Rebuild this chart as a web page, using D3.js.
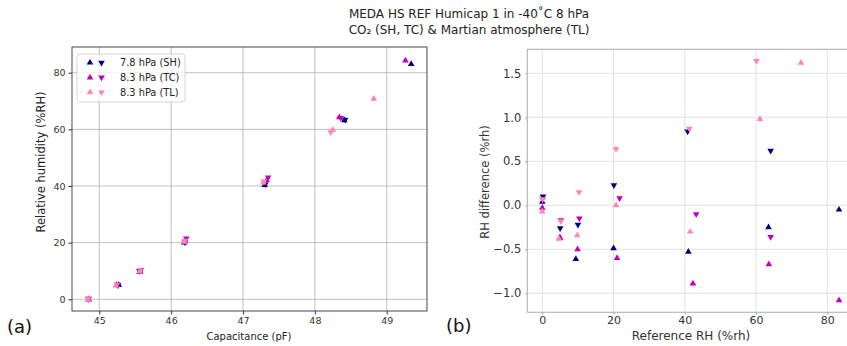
<!DOCTYPE html>
<html><head><meta charset="utf-8">
<script src="https://cdn.jsdelivr.net/npm/d3@7"></script>
<style>
body{margin:0;background:#fff;}
svg{display:block;font-family:"DejaVu Sans",sans-serif;}
</style></head>
<body><svg id="c" width="847" height="346"></svg>
<script>
// ---------- DATA ----------
const seriesNames = ["7.8 hPa (SH)", "8.3 hPa (TC)", "8.3 hPa (TL)"];
const seriesColors = ["#000080", "#bf00bf", "#ff85b4"];
const titleLines = ["MEDA HS REF Humicap 1 in -40\u02DAC 8 hPa", "CO\u2082 (SH, TC) & Martian atmosphere (TL)"];

// Panel (a): capacitance (pF) vs relative humidity (%RH)
const capSHup   = [44.85, 45.27, 45.56, 46.18, 47.30, 48.41, 49.34];
const rhSHup    = [0.0, 5.0, 9.6, 20.0, 40.3, 63.2, 83.0];
const capSHdown = [44.85, 45.26, 45.56, 46.19, 47.31, 48.42];
const rhSHdown  = [0.2, 5.0, 10.0, 20.2, 40.6, 63.4];
const capTCup   = [44.85, 45.24, 45.57, 46.19, 47.33, 48.34, 49.26];
const rhTCup    = [0.0, 5.0, 9.9, 20.5, 42.0, 64.2, 84.3];
const capTCdown = [44.85, 45.25, 45.58, 46.21, 47.35, 48.36];
const rhTCdown  = [0.1, 5.2, 10.4, 21.5, 43.0, 64.0];
const capTLup   = [44.84, 45.23, 45.56, 46.18, 47.28, 48.25, 48.82];
const rhTLup    = [0.0, 4.8, 9.8, 20.3, 41.2, 59.8, 70.8];
const capTLdown = [44.85, 45.24, 45.57, 46.19, 47.29, 48.22];
const rhTLdown  = [0.3, 5.2, 10.3, 20.7, 41.6, 59.0];

// Panel (b): reference RH (%rh) vs RH difference (%rh)
const refSHup   = [0.0, 4.9, 9.4, 20.0, 41.0, 63.5, 83.3];
const difSHup   = [0.04, -0.37, -0.61, -0.49, -0.53, -0.25, -0.05];
const refSHdown = [0.2, 5.0, 10.0, 20.1, 40.8, 64.1];
const difSHdown = [0.10, -0.26, -0.22, 0.23, 0.84, 0.62];
const refTCup   = [0.0, 5.0, 9.9, 21.0, 42.3, 63.6, 83.3];
const difTCup   = [-0.03, -0.37, -0.50, -0.60, -0.89, -0.67, -1.08];
const refTCdown = [0.1, 5.2, 10.4, 21.7, 43.2, 64.1];
const difTCdown = [0.07, -0.17, -0.15, 0.08, -0.10, -0.36];
const refTLup   = [0.0, 4.7, 9.8, 20.7, 41.5, 61.1, 72.6];
const difTLup   = [-0.07, -0.38, -0.34, 0.00, -0.30, 0.98, 1.62];
const refTLdown = [0.1, 5.2, 10.3, 20.7, 41.3, 60.1];
const difTLdown = [0.07, -0.18, 0.15, 0.64, 0.87, 1.64];

const xTicksA = [45, 46, 47, 48, 49];
const yTicksA = [0, 20, 40, 60, 80];
const xTicksB = [0, 20, 40, 60, 80];
const yTicksB = [-1.0, -0.5, 0.0, 0.5, 1.0, 1.5];

// ---------- BUILD ----------
const svg = d3.select("#c");
const zip = (a, b) => a.map((v, i) => [v, b[i]]);
const panelA = [
  {c: 0, up: zip(capSHup, rhSHup), down: zip(capSHdown, rhSHdown)},
  {c: 1, up: zip(capTCup, rhTCup), down: zip(capTCdown, rhTCdown)},
  {c: 2, up: zip(capTLup, rhTLup), down: zip(capTLdown, rhTLdown)}
];
const panelB = [
  {c: 0, up: zip(refSHup, difSHup), down: zip(refSHdown, difSHdown)},
  {c: 1, up: zip(refTCup, difTCup), down: zip(refTCdown, difTCdown)},
  {c: 2, up: zip(refTLup, difTLup), down: zip(refTLdown, difTLdown)}
];
const tri = d3.symbol().type(d3.symbolTriangle).size(19)();

// Title
svg.append("g").selectAll("text").data(titleLines).join("text")
  .attr("x", 469).attr("y", (d, i) => 17.5 + i * 16)
  .attr("text-anchor", "middle").attr("font-size", 12).attr("fill", "#222")
  .text(d => d);

// ----- Panel (a) -----
const A = {l: 72, r: 427, t: 47, b: 311};
const xA = d3.scaleLinear().domain([44.62, 49.56]).range([A.l, A.r]);
const yA = d3.scaleLinear().domain([-4.13, 89.07]).range([A.b, A.t]);
const gA = svg.append("g");
gA.append("g").selectAll("line").data(xTicksA).join("line")
  .attr("x1", d => xA(d)).attr("x2", d => xA(d)).attr("y1", A.t).attr("y2", A.b)
  .attr("stroke", "#b0b0b0").attr("stroke-width", 0.8);
gA.append("g").selectAll("line").data(yTicksA).join("line")
  .attr("y1", d => yA(d)).attr("y2", d => yA(d)).attr("x1", A.l).attr("x2", A.r)
  .attr("stroke", "#b0b0b0").attr("stroke-width", 0.8);
const axA = gA.append("g").attr("transform", `translate(0,${A.b})`)
  .call(d3.axisBottom(xA).tickValues(xTicksA).tickFormat(d3.format("d")).tickSize(3.5).tickPadding(3));
const ayA = gA.append("g").attr("transform", `translate(${A.l},0)`)
  .call(d3.axisLeft(yA).tickValues(yTicksA).tickFormat(d3.format("d")).tickSize(3.5).tickPadding(3));
[axA, ayA].forEach(a => {
  a.select(".domain").remove();
  a.selectAll("line").attr("stroke", "#333");
  a.selectAll("text").attr("font-size", 9.5).attr("fill", "#333").attr("font-family", "DejaVu Sans");
});
gA.append("rect").attr("x", A.l).attr("y", A.t).attr("width", A.r - A.l).attr("height", A.b - A.t)
  .attr("fill", "none").attr("stroke", "#333").attr("stroke-width", 0.9);
panelA.forEach(s => {
  gA.append("g").selectAll("path.u").data(s.up).join("path")
    .attr("d", tri).attr("fill", seriesColors[s.c])
    .attr("transform", d => `translate(${xA(d[0])},${yA(d[1])})`);
  gA.append("g").selectAll("path.d").data(s.down).join("path")
    .attr("d", tri).attr("fill", seriesColors[s.c])
    .attr("transform", d => `translate(${xA(d[0])},${yA(d[1])}) rotate(180)`);
});
gA.append("text").attr("x", 249).attr("y", 340).attr("text-anchor", "middle")
  .attr("font-size", 10).attr("fill", "#222").text("Capacitance (pF)");
gA.append("text").attr("transform", "translate(45,162) rotate(-90)").attr("text-anchor", "middle")
  .attr("font-size", 11.5).attr("fill", "#222").text("Relative humidity (%RH)");
// legend
const lg = gA.append("g");
lg.append("rect").attr("x", 77).attr("y", 54).attr("width", 108).attr("height", 48)
  .attr("rx", 3).attr("fill", "#fff").attr("fill-opacity", 0.8).attr("stroke", "#ccc").attr("stroke-width", 0.8);
seriesNames.forEach((n, i) => {
  const y = 62.7 + i * 14.8;
  lg.append("path").attr("d", tri).attr("fill", seriesColors[i]).attr("transform", `translate(90,${y})`);
  lg.append("path").attr("d", tri).attr("fill", seriesColors[i]).attr("transform", `translate(101.5,${y}) rotate(180)`);
  lg.append("text").attr("x", 120).attr("y", y + 3.5).attr("font-size", 9.8).attr("fill", "#222").text(n);
});
svg.append("text").attr("x", 7).attr("y", 333).attr("font-size", 18).attr("fill", "#111").text("(a)");

// ----- Panel (b) -----
const B = {l: 527.3, r: 854, t: 49.3, b: 312.3};
const xB = d3.scaleLinear().domain([-4.21, 87.5]).range([B.l, B.r]);
const yB = d3.scaleLinear().domain([-1.216, 1.773]).range([B.b, B.t]);
const gB = svg.append("g");
gB.append("g").selectAll("line").data(xTicksB).join("line")
  .attr("x1", d => xB(d)).attr("x2", d => xB(d)).attr("y1", B.t).attr("y2", B.b)
  .attr("stroke", "#e3e3e3").attr("stroke-width", 1);
gB.append("g").selectAll("line").data(yTicksB).join("line")
  .attr("y1", d => yB(d)).attr("y2", d => yB(d)).attr("x1", B.l).attr("x2", B.r)
  .attr("stroke", "#e3e3e3").attr("stroke-width", 1);
const axB = gB.append("g").attr("transform", `translate(0,${B.b})`)
  .call(d3.axisBottom(xB).tickValues(xTicksB).tickFormat(d3.format("d")).tickSize(2).tickPadding(2));
const ayB = gB.append("g").attr("transform", `translate(${B.l},0)`)
  .call(d3.axisLeft(yB).tickValues(yTicksB).tickFormat(d => d3.format(".1f")(d).replace("-", "\u2212")).tickSize(2).tickPadding(4));
[axB, ayB].forEach(a => {
  a.select(".domain").remove();
  a.selectAll("line").attr("stroke", "#999");
  a.selectAll("text").attr("font-size", 11.5).attr("fill", "#333").attr("font-family", "DejaVu Sans");
});
axB.selectAll("text").attr("font-size", 11);
gB.append("rect").attr("x", B.l).attr("y", B.t).attr("width", B.r - B.l).attr("height", B.b - B.t)
  .attr("fill", "none").attr("stroke", "#b8b8b8").attr("stroke-width", 1.2);
panelB.forEach(s => {
  gB.append("g").selectAll("path.u").data(s.up).join("path")
    .attr("d", tri).attr("fill", seriesColors[s.c])
    .attr("transform", d => `translate(${xB(d[0])},${yB(d[1])})`);
  gB.append("g").selectAll("path.d").data(s.down).join("path")
    .attr("d", tri).attr("fill", seriesColors[s.c])
    .attr("transform", d => `translate(${xB(d[0])},${yB(d[1])}) rotate(180)`);
});
gB.append("text").attr("x", 691).attr("y", 340).attr("text-anchor", "middle")
  .attr("font-size", 12).attr("fill", "#333").text("Reference RH (%rh)");
gB.append("text").attr("transform", "translate(489,182) rotate(-90)").attr("text-anchor", "middle")
  .attr("font-size", 11.5).attr("fill", "#333").text("RH difference (%rh)");
svg.append("text").attr("x", 446).attr("y", 332).attr("font-size", 18).attr("fill", "#111").text("(b)");
</script></body></html>
